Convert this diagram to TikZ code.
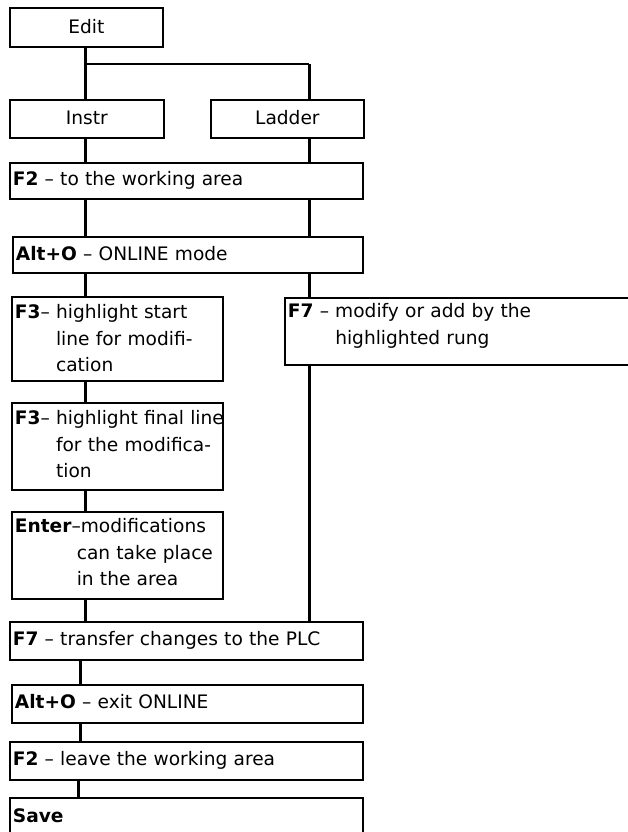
\documentclass[tikz,border=0pt]{standalone}
\usepackage{fontspec}
\setmainfont{DejaVu Sans}
\usetikzlibrary{calc}

\begin{document}
\begin{tikzpicture}[x=1pt,y=-1pt]
    \useasboundingbox (0,0) rectangle (628,832);

    \tikzset{stepbox/.style={draw,line width=1.8pt,anchor=north west,inner xsep=3pt,inner ysep=0pt,
            align=left,font=\fontsize{18.6}{26.5}\selectfont},
        link/.style={line width=3pt},
        branch/.style={line width=2pt}}

    \node[stepbox,align=center,text width=147pt,text height=26pt,text depth=13pt] (edit)   at (9,7)   {Edit};
    \node[stepbox,align=center,text width=148pt,text height=25pt,text depth=13pt] (instr)  at (9,99)  {Instr};
    \node[stepbox,align=center,text width=147pt,text height=25pt,text depth=13pt] (ladder) at (210,99) {Ladder};

    \node[stepbox,text width=347pt,text height=23pt,text depth=13pt] (toarea) at (9,162)  {\textbf{F2} -- to the working area};
    \node[stepbox,text width=344pt,text height=24pt,text depth=12pt] (online) at (12,236) {\textbf{Alt+O} -- ONLINE mode};

    \node[stepbox,text width=205pt,text height=22pt,text depth=62pt] (hlstart) at (11,296)
        {\mbox{\textbf{F3}-- \begin{tabular}[t]{@{}l@{}}highlight start\\line for modifi-\\cation\end{tabular}}};
    \node[stepbox,text width=205pt,text height=22pt,text depth=65pt] (hlfinal) at (11,402)
        {\mbox{\textbf{F3}-- \begin{tabular}[t]{@{}l@{}}highlight final line\\for the modifica-\\tion\end{tabular}}};
    \node[stepbox,text width=205pt,text height=21pt,text depth=66pt] (enter) at (11,511)
        {\mbox{\textbf{Enter}--\begin{tabular}[t]{@{}l@{}}modifications\\\hspace*{-4pt}can take place\\\hspace*{-4pt}in the area\end{tabular}}};
    \node[stepbox,text width=340pt,text height=20pt,text depth=47pt] (modify) at (284,297)
        {\mbox{\textbf{F7} -- \begin{tabular}[t]{@{}l@{}}modify or add by the\\highlighted rung\end{tabular}}};

    \node[stepbox,text width=347pt,text height=24pt,text depth=14pt] (transfer) at (9,621)  {\textbf{F7} -- transfer changes to the PLC};
    \node[stepbox,text width=345pt,text height=24pt,text depth=14pt] (exit)     at (11,684) {\textbf{Alt+O} -- exit ONLINE};
    \node[stepbox,text width=347pt,text height=24pt,text depth=14pt] (leave)    at (9,741)  {\textbf{F2} -- leave the working area};
    \node[stepbox,text width=347pt,text height=25pt,text depth=28pt] (save)     at (9,797)  {\textbf{Save}};

    \coordinate (lcol) at (85,0);
    \coordinate (rcol) at (309,0);
    \coordinate (bcol) at (80,0);
    \coordinate (split) at (85,64);

    \draw[link] (edit.south -| lcol) -- (instr.north -| lcol);
    \draw[branch] (split) -- (split -| rcol);
    \draw[link] (split -| rcol) -- (ladder.north -| rcol);

    \draw[link] (instr.south -| lcol) -- (toarea.north -| lcol);
    \draw[link] (ladder.south -| rcol) -- (toarea.north -| rcol);
    \draw[link] (toarea.south -| lcol) -- (online.north -| lcol);
    \draw[link] (toarea.south -| rcol) -- (online.north -| rcol);
    \draw[link] (online.south -| lcol) -- (hlstart.north -| lcol);
    \draw[link] (online.south -| rcol) -- (modify.north -| rcol);
    \draw[link] (hlstart.south -| lcol) -- (hlfinal.north -| lcol);
    \draw[link] (hlfinal.south -| lcol) -- (enter.north -| lcol);
    \draw[link] (enter.south -| lcol) -- (transfer.north -| lcol);
    \draw[link] (modify.south -| rcol) -- (transfer.north -| rcol);
    \draw[link] (transfer.south -| bcol) -- (exit.north -| bcol);
    \draw[link] (exit.south -| bcol) -- (leave.north -| bcol);
    \draw[link] ($(leave.south -| bcol)+(-2,0)$) -- ($(save.north -| bcol)+(-2,0)$);
\end{tikzpicture}
\end{document}
